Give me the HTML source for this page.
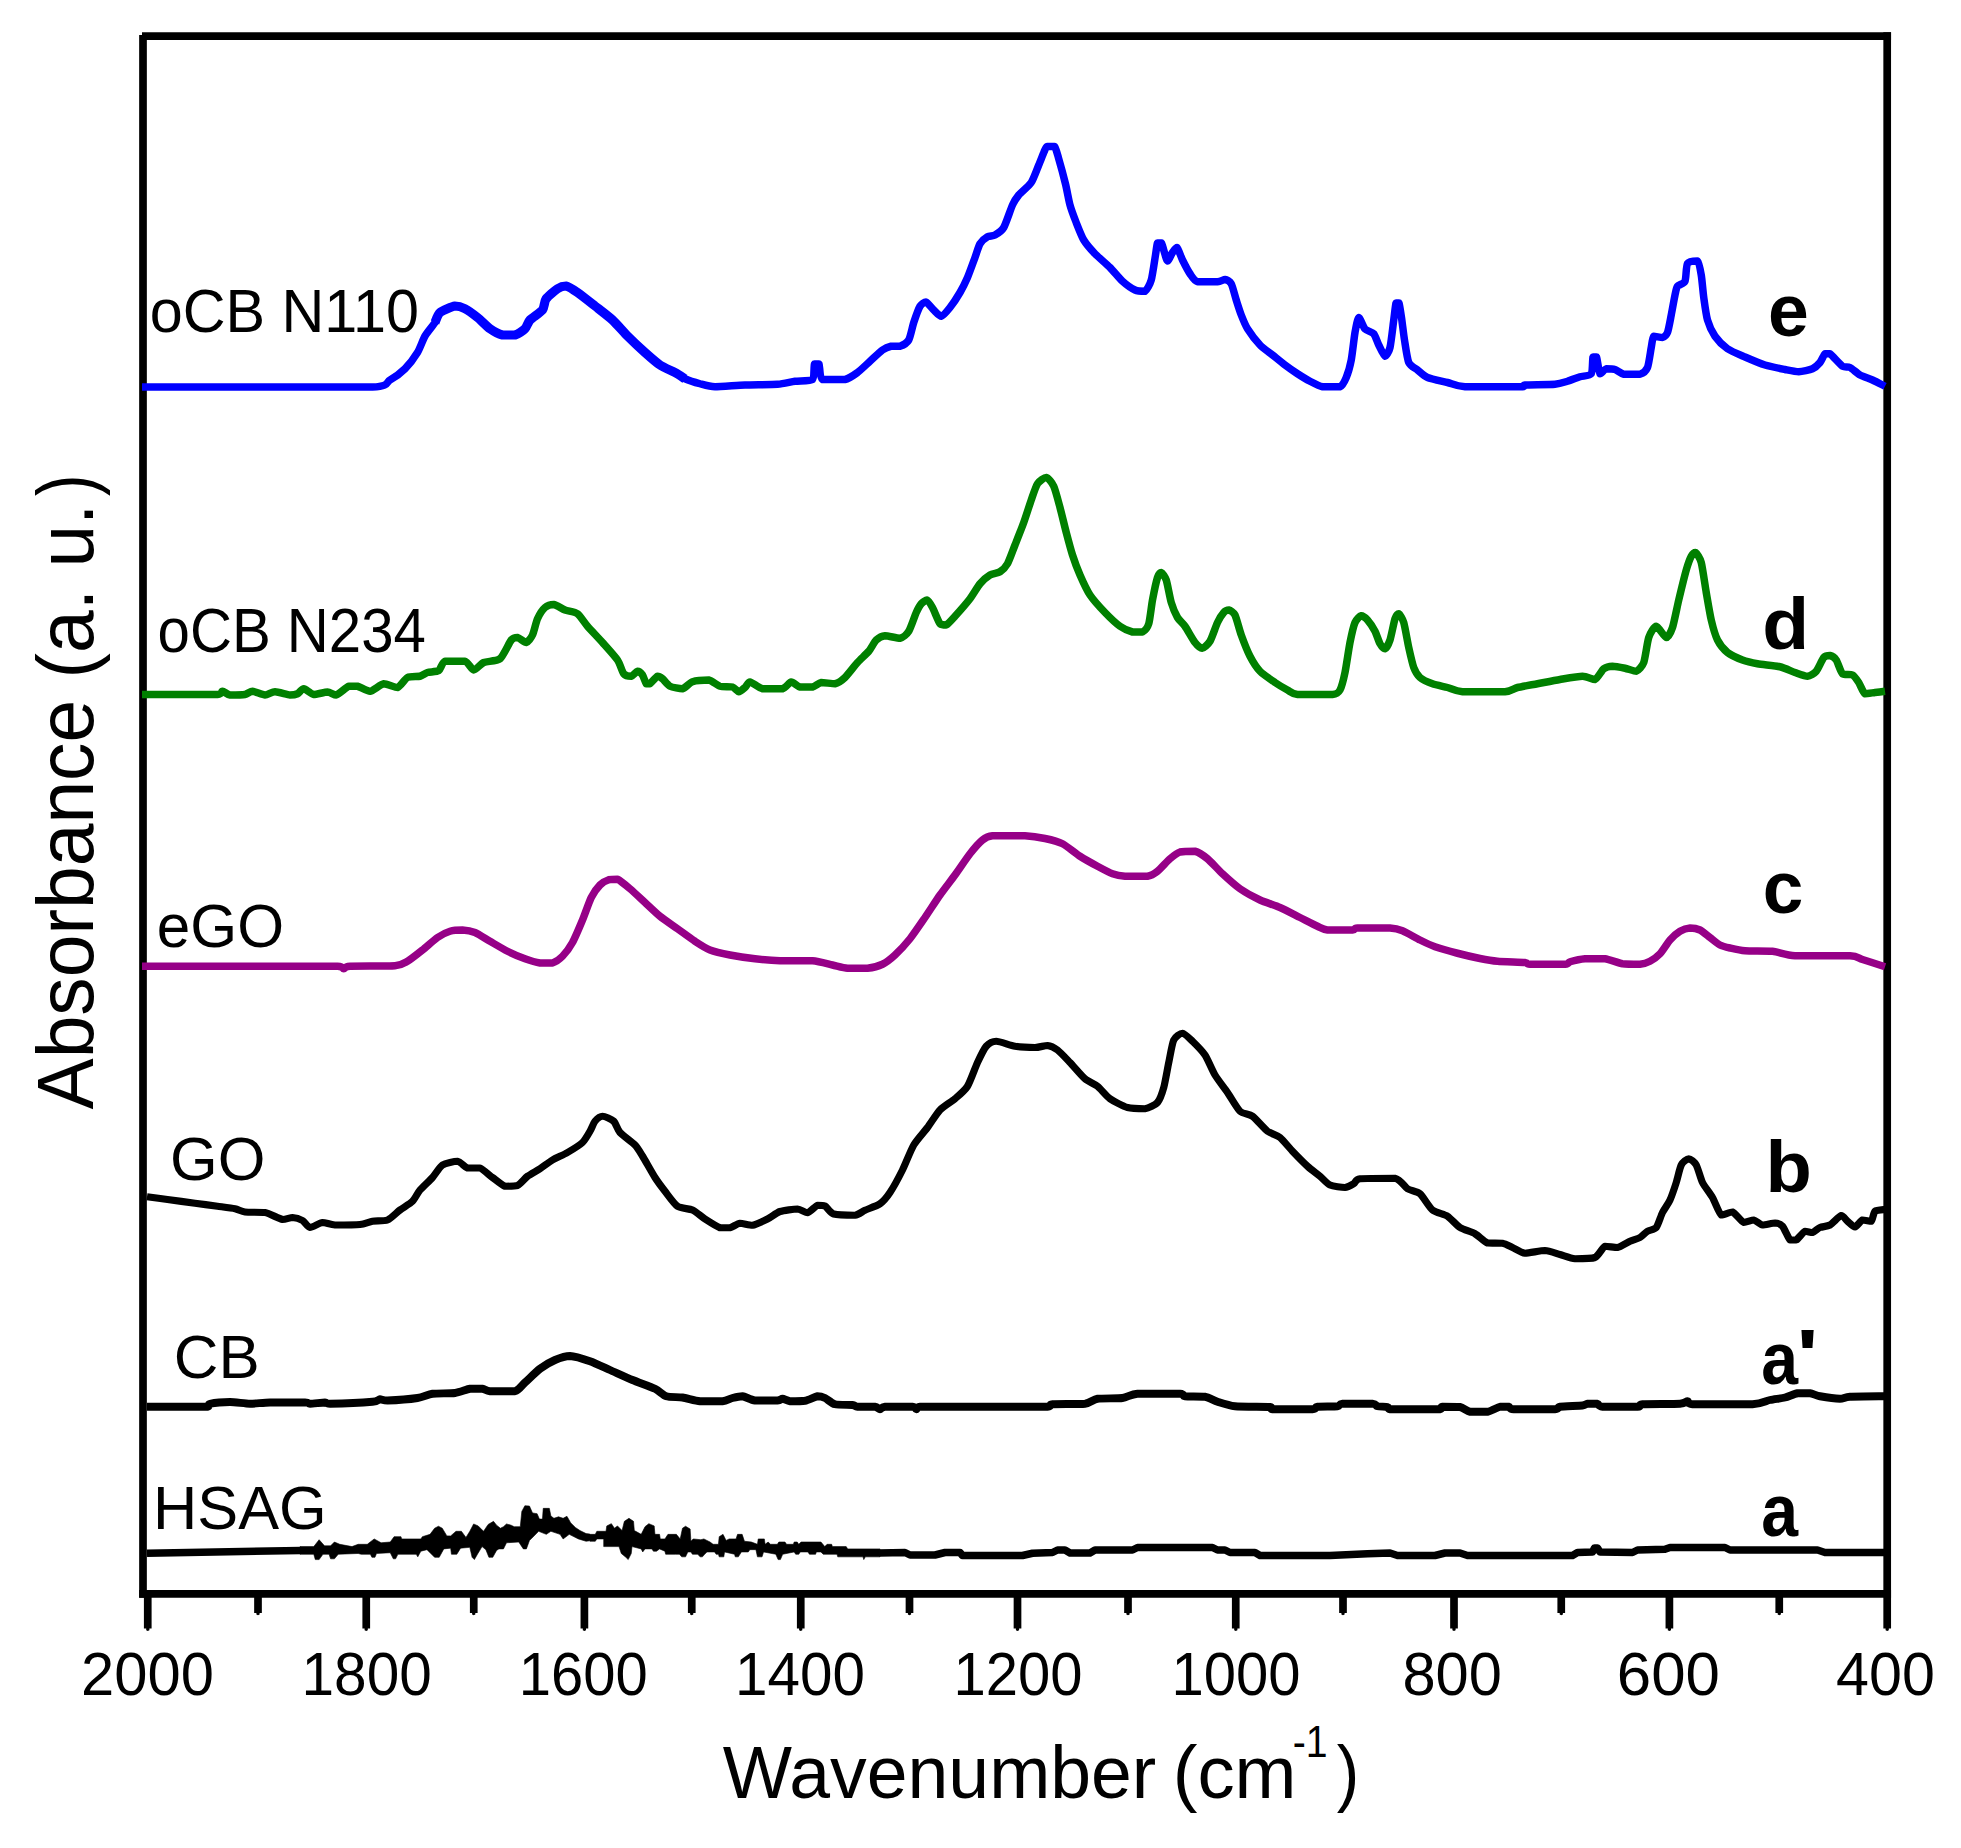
<!DOCTYPE html>
<html><head><meta charset="utf-8"><title>FTIR spectra</title>
<style>
html,body{margin:0;padding:0;background:#fff;}
body{width:1961px;height:1848px;overflow:hidden;}
svg{display:block;}
text{font-family:"Liberation Sans",sans-serif;fill:#000;}
.c{fill:none;stroke-linejoin:round;stroke-linecap:butt;}
</style></head><body>
<svg width="1961" height="1848" viewBox="0 0 1961 1848">
<rect x="0" y="0" width="1961" height="1848" fill="#fff"/>

<g stroke="#000" stroke-width="7.7" fill="none" stroke-linecap="butt">
<line x1="143.0" y1="35" x2="143.0" y2="1597.80"/>
<line x1="142" y1="36.05" x2="1891.05" y2="36.05"/>
<line x1="1887.2" y1="32.20" x2="1887.2" y2="1628.5"/>
<line x1="139.15" y1="1593.95" x2="1891.05" y2="1593.95"/>
<line x1="147.75" y1="1593.95" x2="147.75" y2="1628.5"/>
<line x1="366.25" y1="1593.95" x2="366.25" y2="1628.5"/>
<line x1="584.4" y1="1593.95" x2="584.4" y2="1628.5"/>
<line x1="800.75" y1="1593.95" x2="800.75" y2="1628.5"/>
<line x1="1017.5" y1="1593.95" x2="1017.5" y2="1628.5"/>
<line x1="1235.75" y1="1593.95" x2="1235.75" y2="1628.5"/>
<line x1="1454" y1="1593.95" x2="1454" y2="1628.5"/>
<line x1="1669.4" y1="1593.95" x2="1669.4" y2="1628.5"/>
<line x1="258" y1="1593.95" x2="258" y2="1613"/>
<line x1="473.75" y1="1593.95" x2="473.75" y2="1613"/>
<line x1="691.75" y1="1593.95" x2="691.75" y2="1613"/>
<line x1="909.5" y1="1593.95" x2="909.5" y2="1613"/>
<line x1="1128" y1="1593.95" x2="1128" y2="1613"/>
<line x1="1343" y1="1593.95" x2="1343" y2="1613"/>
<line x1="1561.25" y1="1593.95" x2="1561.25" y2="1613"/>
<line x1="1779.25" y1="1593.95" x2="1779.25" y2="1613"/>
</g>
<path fill="#000" d="M146.2,1628 h3.2 v2.2 l-1.6,0.8 l-1.6,-0.8 Z M364.6,1628 h3.2 v2.2 l-1.6,0.8 l-1.6,-0.8 Z M582.8,1628 h3.2 v2.2 l-1.6,0.8 l-1.6,-0.8 Z M799.1,1628 h3.2 v2.2 l-1.6,0.8 l-1.6,-0.8 Z M1015.9,1628 h3.2 v2.2 l-1.6,0.8 l-1.6,-0.8 Z M1234.2,1628 h3.2 v2.2 l-1.6,0.8 l-1.6,-0.8 Z M1452.4,1628 h3.2 v2.2 l-1.6,0.8 l-1.6,-0.8 Z M1667.8,1628 h3.2 v2.2 l-1.6,0.8 l-1.6,-0.8 Z M1885.6,1628 h3.2 v2.2 l-1.6,0.8 l-1.6,-0.8 Z M256.4,1612.5 h3.2 v2 l-1.6,0.8 l-1.6,-0.8 Z M472.1,1612.5 h3.2 v2 l-1.6,0.8 l-1.6,-0.8 Z M690.1,1612.5 h3.2 v2 l-1.6,0.8 l-1.6,-0.8 Z M907.9,1612.5 h3.2 v2 l-1.6,0.8 l-1.6,-0.8 Z M1126.4,1612.5 h3.2 v2 l-1.6,0.8 l-1.6,-0.8 Z M1341.4,1612.5 h3.2 v2 l-1.6,0.8 l-1.6,-0.8 Z M1559.7,1612.5 h3.2 v2 l-1.6,0.8 l-1.6,-0.8 Z M1777.7,1612.5 h3.2 v2 l-1.6,0.8 l-1.6,-0.8 Z"/>
<path class="c" stroke="#0000ff" stroke-width="7.5" d="M142.00,387.00C168.89,387.00 343.57,387.00 372.50,387.00C390.00,386.18 386.21,382.13 390.00,380.00C393.79,377.87 401.79,371.96 405.00,368.75C408.21,365.54 415.17,356.32 417.50,352.50C419.83,348.68 422.96,339.50 425.00,336.00C427.04,332.50 433.25,325.24 435.00,322.50C436.75,319.76 437.67,314.43 440.00,312.50C442.33,310.57 452.08,306.44 455.00,306.00C457.92,306.00 462.38,307.41 465.00,308.75C467.62,310.09 474.58,315.17 477.50,317.50C480.42,319.83 487.08,326.71 490.00,328.75C492.92,330.79 499.58,334.27 502.50,335.00C505.42,335.00 512.38,335.00 515.00,335.00C517.62,334.27 523.25,330.50 525.00,328.75C526.75,327.00 527.96,322.19 530.00,320.00C532.04,317.81 540.63,312.45 542.50,310.00C544.37,307.55 544.25,301.48 546.00,299.00C547.75,296.52 555.17,290.27 557.50,288.75C559.83,287.23 563.67,286.00 566.00,286.00C568.33,286.44 574.12,290.17 577.50,292.50C580.88,294.83 590.92,302.79 595.00,306.00C599.08,309.21 608.71,316.50 612.50,320.00C616.29,323.50 623.71,332.21 627.50,336.00C631.29,339.79 641.21,349.12 645.00,352.50C648.79,355.88 656.50,362.67 660.00,365.00C663.50,367.33 672.08,370.90 675.00,372.50C677.92,374.10 682.08,377.44 685.00,378.75C687.92,380.06 696.50,382.82 700.00,383.75C703.50,384.68 709.75,386.60 715.00,386.75C720.25,386.75 737.71,385.29 745.00,385.00C752.29,384.71 771.67,384.69 777.50,384.25C783.33,383.81 790.92,381.80 795.00,381.25C799.08,380.70 810.23,381.25 812.50,379.50C814.50,377.49 813.74,365.81 814.50,364.00C815.26,364.00 818.07,364.00 819.00,364.00C819.93,365.81 819.47,377.69 822.50,379.50C825.53,379.50 840.92,379.50 845.00,379.50C849.08,378.68 854.58,374.63 857.50,372.50C860.42,370.37 867.08,363.88 870.00,361.25C872.92,358.62 880.05,351.75 882.50,350.00C884.95,348.25 888.96,346.69 891.00,346.25C893.04,346.25 897.93,346.25 900.00,346.25C902.07,345.52 907.15,342.77 908.75,340.00C910.35,337.23 912.44,326.44 913.75,322.50C915.06,318.56 918.57,308.64 920.00,306.25C921.43,303.86 924.40,302.00 926.00,302.00C927.60,302.44 931.97,308.34 933.75,310.00C935.53,311.66 939.35,316.25 941.25,316.25C943.15,315.96 947.81,310.27 950.00,307.50C952.19,304.73 957.96,296.00 960.00,292.50C962.04,289.00 965.75,281.58 967.50,277.50C969.25,273.42 973.54,261.44 975.00,257.50C976.46,253.56 978.54,246.17 980.00,243.75C981.46,241.33 985.75,237.77 987.50,236.75C989.25,235.73 993.10,236.08 995.00,235.00C996.90,233.92 1001.71,231.00 1003.75,227.50C1005.79,224.00 1010.75,208.79 1012.50,205.00C1014.25,201.21 1016.56,197.62 1018.75,195.00C1020.94,192.38 1028.92,186.00 1031.25,182.50C1033.58,179.00 1037.26,168.56 1038.75,165.00C1040.24,161.44 1043.04,154.16 1044.00,152.00C1044.96,149.84 1045.78,147.14 1047.00,146.50C1048.22,146.50 1053.16,146.50 1054.50,146.50C1055.84,147.84 1057.22,153.62 1058.50,158.00C1059.78,162.38 1064.16,178.52 1065.50,184.00C1066.84,189.48 1068.78,200.57 1070.00,205.00C1071.22,209.43 1074.40,217.92 1076.00,222.00C1077.60,226.08 1081.53,236.30 1083.75,240.00C1085.97,243.70 1091.94,250.54 1095.00,253.75C1098.06,256.96 1106.79,264.29 1110.00,267.50C1113.21,270.71 1119.58,278.62 1122.50,281.25C1125.42,283.88 1132.38,288.83 1135.00,290.00C1137.62,291.17 1143.10,291.25 1145.00,291.25C1146.90,290.08 1150.03,284.23 1151.25,280.00C1152.47,275.77 1154.77,259.32 1155.50,255.00C1156.23,250.68 1156.80,244.40 1157.50,243.00C1158.20,243.00 1160.74,243.00 1161.50,243.00C1162.26,243.93 1163.30,248.90 1164.00,251.00C1164.70,253.10 1166.51,260.82 1167.50,261.00C1168.49,261.00 1171.39,254.07 1172.50,252.50C1173.61,250.93 1175.83,247.50 1177.00,247.50C1178.17,248.38 1180.98,256.94 1182.50,260.00C1184.02,263.06 1188.25,271.21 1190.00,273.75C1191.75,276.29 1194.29,280.82 1197.50,281.75C1200.71,281.75 1214.29,281.75 1217.50,281.75C1220.71,281.49 1223.40,279.50 1225.00,279.50C1226.60,279.73 1229.94,281.36 1231.25,283.75C1232.56,286.14 1235.08,296.35 1236.25,300.00C1237.42,303.65 1239.94,311.65 1241.25,315.00C1242.56,318.35 1245.31,325.25 1247.50,328.75C1249.69,332.25 1257.08,341.94 1260.00,345.00C1262.92,348.06 1269.58,352.67 1272.50,355.00C1275.42,357.33 1282.08,362.81 1285.00,365.00C1287.92,367.19 1294.58,371.85 1297.50,373.75C1300.42,375.65 1307.08,379.73 1310.00,381.25C1312.92,382.77 1319.00,386.11 1322.50,386.75C1326.00,386.75 1337.23,386.75 1340.00,386.75C1342.77,385.67 1344.94,380.62 1346.25,377.50C1347.56,374.38 1350.23,365.25 1351.25,360.00C1352.27,354.75 1354.12,337.46 1355.00,332.50C1355.88,327.54 1357.58,317.91 1358.75,317.50C1359.92,317.50 1363.25,327.10 1365.00,329.00C1366.75,330.90 1372.15,331.88 1373.75,333.75C1375.35,335.62 1377.44,342.38 1378.75,345.00C1380.06,347.62 1383.69,355.96 1385.00,356.25C1386.31,356.25 1388.98,351.73 1390.00,347.50C1391.02,343.27 1393.05,325.19 1393.75,320.00C1394.45,314.81 1395.39,304.98 1396.00,303.00C1396.61,303.00 1398.36,303.00 1399.00,303.00C1399.64,304.69 1400.86,313.18 1401.50,317.50C1402.14,321.82 1403.65,334.75 1404.50,340.00C1405.35,345.25 1407.23,359.00 1408.75,362.50C1410.27,366.00 1415.31,368.25 1417.50,370.00C1419.69,371.75 1424.00,376.04 1427.50,377.50C1431.00,378.96 1443.12,381.42 1447.50,382.50C1451.88,383.58 1456.25,386.25 1465.00,386.75C1473.75,386.75 1515.50,386.75 1522.50,386.75C1525.00,386.55 1522.50,385.29 1525.00,385.00C1528.79,384.71 1550.04,384.69 1555.00,384.25C1559.96,383.81 1564.58,382.12 1567.50,381.25C1570.42,380.38 1577.23,377.62 1580.00,376.75C1582.77,375.88 1589.73,376.05 1591.25,373.75C1592.77,371.45 1592.39,358.95 1593.00,357.00C1593.61,357.00 1595.68,357.00 1596.50,357.00C1597.32,358.95 1598.86,372.38 1600.00,373.75C1601.14,373.75 1604.50,369.25 1606.25,368.75C1608.00,368.75 1612.96,368.86 1615.00,369.50C1617.04,370.14 1620.83,373.70 1623.75,374.25C1626.67,374.25 1637.23,374.25 1640.00,374.25C1642.77,373.46 1646.19,370.62 1647.50,367.50C1648.81,364.38 1650.52,351.15 1651.25,347.50C1651.98,343.85 1652.44,337.42 1653.75,336.25C1655.06,336.25 1660.90,337.50 1662.50,337.50C1664.10,337.06 1666.48,335.12 1667.50,332.50C1668.52,329.88 1670.38,319.38 1671.25,315.00C1672.12,310.62 1674.27,298.35 1675.00,295.00C1675.73,291.65 1676.33,287.85 1677.50,286.25C1678.67,284.65 1683.83,283.90 1685.00,281.25C1686.17,278.60 1686.04,265.86 1687.50,263.50C1688.96,261.14 1695.90,261.00 1697.50,261.00C1699.10,262.34 1700.52,270.74 1701.25,275.00C1701.98,279.26 1703.02,292.25 1703.75,297.50C1704.48,302.75 1706.19,315.48 1707.50,320.00C1708.81,324.52 1712.67,332.90 1715.00,336.25C1717.33,339.60 1724.00,346.33 1727.50,348.75C1731.00,351.17 1740.62,355.10 1745.00,357.00C1749.38,358.90 1760.33,363.54 1765.00,365.00C1769.67,366.46 1781.06,368.71 1785.00,369.50C1788.94,370.29 1795.54,371.75 1798.75,371.75C1801.96,371.66 1810.02,369.83 1812.50,368.75C1814.98,367.67 1818.54,364.25 1820.00,362.50C1821.46,360.75 1823.83,354.77 1825.00,353.75C1826.17,353.75 1827.96,353.75 1830.00,353.75C1832.04,355.21 1840.17,364.65 1842.50,366.25C1844.83,367.50 1847.96,366.48 1850.00,367.50C1852.04,368.52 1857.38,373.54 1860.00,375.00C1862.62,376.46 1869.58,378.69 1872.50,380.00C1875.42,381.31 1883.54,385.52 1885.00,386.25"/>
<path class="c" stroke="#0000ff" stroke-width="9.2" stroke-linecap="round" d="M435.00,322.50C435.58,321.33 437.67,314.43 440.00,312.50C442.33,310.57 452.08,306.44 455.00,306.00C457.92,306.00 462.38,307.41 465.00,308.75C467.62,310.09 474.58,315.17 477.50,317.50C480.42,319.83 487.08,326.71 490.00,328.75C492.92,330.79 499.58,334.27 502.50,335.00C505.42,335.00 512.38,335.00 515.00,335.00C517.62,334.27 523.25,330.50 525.00,328.75C526.75,327.00 527.96,322.19 530.00,320.00C532.04,317.81 540.63,312.45 542.50,310.00C544.37,307.55 544.25,301.48 546.00,299.00C547.75,296.52 555.17,290.27 557.50,288.75C559.83,287.23 563.67,286.00 566.00,286.00C568.33,286.44 574.12,290.17 577.50,292.50C580.88,294.83 590.92,302.79 595.00,306.00C599.08,309.21 608.71,316.50 612.50,320.00C616.29,323.50 623.71,332.21 627.50,336.00C631.29,339.79 641.21,349.12 645.00,352.50C648.79,355.88 656.50,362.67 660.00,365.00C663.50,367.33 672.08,370.90 675.00,372.50C677.92,374.10 683.83,378.02 685.00,378.75"/>
<path class="c" stroke="#008000" stroke-width="7.5" d="M142.00,694.50C150.81,694.50 208.11,694.50 217.50,694.50C222.50,694.12 221.04,691.25 222.50,691.25C223.96,691.31 227.38,694.62 230.00,695.00C232.62,695.00 242.38,694.94 245.00,694.50C247.62,694.06 250.17,691.25 252.50,691.25C254.83,691.31 262.38,694.94 265.00,695.00C267.62,695.00 272.08,691.75 275.00,691.75C277.92,691.75 287.38,694.77 290.00,695.00C292.62,695.00 295.90,694.48 297.50,693.75C299.10,693.02 301.85,688.75 303.75,688.75C305.65,688.84 310.98,694.12 313.75,694.50C316.52,694.50 324.88,692.00 327.50,692.00C330.12,692.06 333.77,695.00 336.25,695.00C338.73,694.33 346.27,687.27 348.75,686.25C351.23,686.25 355.02,686.25 357.50,686.25C359.98,686.83 366.94,691.25 370.00,691.25C373.06,690.96 380.54,684.19 383.75,683.75C386.96,683.75 394.73,687.50 397.50,687.50C400.27,686.77 404.88,678.81 407.50,677.50C410.12,676.25 417.67,676.83 420.00,676.25C422.33,675.67 425.31,673.17 427.50,672.50C429.69,671.83 436.71,671.81 438.75,670.50C440.79,669.19 441.94,662.33 445.00,661.25C448.06,661.25 461.65,661.25 465.00,661.25C468.35,662.27 471.56,669.85 473.75,670.00C475.94,670.00 480.69,663.81 483.75,662.50C486.81,661.19 496.79,661.38 500.00,658.75C503.21,656.12 509.21,642.48 511.25,640.00C513.29,637.52 515.75,637.50 517.50,637.50C519.25,637.79 524.50,642.50 526.25,642.50C528.00,642.21 531.19,637.77 532.50,635.00C533.81,632.23 536.04,621.96 537.50,618.75C538.96,615.54 543.10,609.16 545.00,607.50C546.90,605.84 551.42,604.50 553.75,604.50C556.08,604.79 562.23,608.92 565.00,610.00C567.77,611.08 574.88,611.85 577.50,613.75C580.12,615.65 584.58,622.90 587.50,626.25C590.42,629.60 599.00,638.56 602.50,642.50C606.00,646.44 615.02,656.35 617.50,660.00C619.98,663.65 622.15,671.85 623.75,673.75C625.35,675.65 629.65,676.25 631.25,676.25C632.85,675.96 636.19,671.40 637.50,671.25C638.81,671.25 641.48,673.54 642.50,675.00C643.52,676.46 645.38,682.73 646.25,683.75C647.12,683.75 648.69,683.75 650.00,683.75C651.31,682.88 656.04,676.83 657.50,676.25C658.96,676.25 661.04,677.58 662.50,678.75C663.96,679.92 667.67,685.08 670.00,686.25C672.33,687.42 679.88,688.75 682.50,688.75C685.12,688.23 689.44,682.77 692.50,681.75C695.56,680.73 705.54,680.00 708.75,680.00C711.96,680.52 717.23,685.43 720.00,686.25C722.77,687.00 730.31,686.36 732.50,687.00C734.69,687.64 737.29,691.69 738.75,691.75C740.21,691.75 743.69,688.64 745.00,687.50C746.31,686.36 747.96,682.00 750.00,682.00C752.04,682.15 758.71,687.96 762.50,688.75C766.29,688.75 779.15,688.75 782.50,688.75C785.85,687.96 789.21,682.20 791.25,682.00C793.29,682.00 797.52,686.42 800.00,687.00C802.48,687.00 810.02,687.00 812.50,687.00C814.98,686.48 818.62,682.88 821.25,682.50C823.88,682.50 832.23,683.75 835.00,683.75C837.77,683.17 842.38,679.98 845.00,677.50C847.62,675.02 854.73,665.56 857.50,662.50C860.27,659.44 866.56,653.88 868.75,651.25C870.94,648.62 874.35,641.81 876.25,640.00C878.15,638.19 882.23,635.95 885.00,635.75C887.77,635.75 897.23,638.25 900.00,638.25C902.77,637.73 906.85,634.25 908.75,631.25C910.65,628.25 914.79,615.71 916.25,612.50C917.71,609.29 920.00,605.21 921.25,603.75C922.50,602.29 925.69,600.00 927.00,600.00C928.31,600.44 930.98,604.73 932.50,607.50C934.02,610.27 938.40,621.71 940.00,623.75C941.60,625.00 944.50,625.00 946.25,625.00C948.00,624.12 952.23,619.31 955.00,616.25C957.77,613.19 967.08,602.54 970.00,598.75C972.92,594.96 977.67,586.52 980.00,583.75C982.33,580.98 987.67,576.40 990.00,575.00C992.33,573.60 997.96,573.06 1000.00,571.75C1002.04,570.44 1005.75,566.87 1007.50,563.75C1009.25,560.63 1013.10,549.81 1015.00,545.00C1016.90,540.19 1021.85,527.75 1023.75,522.50C1025.65,517.25 1029.65,504.52 1031.25,500.00C1032.85,495.48 1035.75,486.38 1037.50,483.75C1039.25,481.12 1044.35,477.50 1046.25,477.50C1048.15,477.79 1052.15,482.75 1053.75,486.25C1055.35,489.75 1058.54,502.10 1060.00,507.50C1061.46,512.90 1064.79,526.96 1066.25,532.50C1067.71,538.04 1070.90,550.04 1072.50,555.00C1074.10,559.96 1077.96,570.33 1080.00,575.00C1082.04,579.67 1087.08,590.62 1090.00,595.00C1092.92,599.38 1101.50,608.85 1105.00,612.50C1108.50,616.15 1116.79,623.98 1120.00,626.25C1123.21,628.52 1129.88,631.33 1132.50,632.00C1135.12,632.00 1140.60,632.00 1142.50,632.00C1144.40,631.04 1147.58,627.48 1148.75,623.75C1149.92,620.02 1151.48,605.40 1152.50,600.00C1153.52,594.60 1156.48,580.71 1157.50,577.50C1158.52,574.29 1160.23,572.50 1161.25,572.50C1162.27,572.79 1165.08,576.50 1166.25,580.00C1167.42,583.50 1169.94,598.12 1171.25,602.50C1172.56,606.88 1175.90,614.73 1177.50,617.50C1179.10,620.27 1182.96,623.33 1185.00,626.25C1187.04,629.17 1193.02,639.93 1195.00,642.50C1196.98,645.07 1200.25,648.25 1202.00,648.25C1203.75,648.10 1208.19,644.25 1210.00,641.25C1211.81,638.25 1215.90,625.85 1217.50,622.50C1219.10,619.15 1222.44,613.96 1223.75,612.50C1225.06,611.04 1227.44,610.00 1228.75,610.00C1230.06,610.29 1233.54,612.08 1235.00,615.00C1236.46,617.92 1239.50,630.19 1241.25,635.00C1243.00,639.81 1247.81,652.02 1250.00,656.25C1252.19,660.48 1257.08,668.19 1260.00,671.25C1262.92,674.31 1271.79,680.31 1275.00,682.50C1278.21,684.69 1284.88,688.60 1287.50,690.00C1290.12,691.40 1292.25,693.98 1297.50,694.50C1302.75,694.50 1327.54,694.50 1332.50,694.50C1337.46,693.98 1338.54,692.57 1340.00,690.00C1341.46,687.43 1343.83,678.04 1345.00,672.50C1346.17,666.96 1348.83,648.33 1350.00,642.50C1351.17,636.67 1353.69,625.62 1355.00,622.50C1356.31,619.38 1359.79,616.04 1361.25,615.75C1362.71,615.75 1365.90,618.19 1367.50,620.00C1369.10,621.81 1373.54,628.48 1375.00,631.25C1376.46,634.02 1378.83,641.71 1380.00,643.75C1381.17,645.79 1383.83,648.75 1385.00,648.75C1386.17,648.31 1388.83,643.50 1390.00,640.00C1391.17,636.50 1393.98,621.81 1395.00,618.75C1396.02,615.69 1397.73,613.75 1398.75,613.75C1399.77,614.19 1402.58,618.56 1403.75,622.50C1404.92,626.44 1407.58,642.25 1408.75,647.50C1409.92,652.75 1412.44,664.00 1413.75,667.50C1415.06,671.00 1417.81,675.60 1420.00,677.50C1422.19,679.40 1429.29,682.58 1432.50,683.75C1435.71,684.92 1444.00,686.57 1447.50,687.50C1451.00,688.43 1455.79,691.25 1462.50,691.75C1469.21,691.75 1498.58,691.75 1505.00,691.75C1511.42,691.25 1513.71,688.43 1517.50,687.50C1521.29,686.57 1532.54,684.68 1537.50,683.75C1542.46,682.82 1554.75,680.38 1560.00,679.50C1565.25,678.62 1578.42,676.25 1582.50,676.25C1586.58,676.25 1592.52,679.50 1595.00,679.50C1597.48,678.62 1601.71,670.30 1603.75,668.75C1605.79,667.20 1610.02,666.31 1612.50,666.25C1614.98,666.25 1622.23,667.67 1625.00,668.25C1627.77,668.83 1634.06,671.25 1636.25,671.25C1638.44,670.58 1642.29,666.44 1643.75,662.50C1645.21,658.56 1647.29,641.73 1648.75,637.50C1650.21,633.27 1654.21,626.25 1656.25,626.25C1658.29,626.25 1664.35,637.35 1666.25,637.50C1668.15,637.50 1671.04,631.88 1672.50,627.50C1673.96,623.12 1677.15,606.71 1678.75,600.00C1680.35,593.29 1684.79,575.10 1686.25,570.00C1687.71,564.90 1690.17,558.29 1691.25,556.25C1692.33,554.21 1694.33,552.50 1695.50,552.50C1696.67,553.23 1700.00,557.83 1701.25,562.50C1702.50,567.17 1705.08,585.79 1706.25,592.50C1707.42,599.21 1709.94,614.46 1711.25,620.00C1712.56,625.54 1715.60,636.21 1717.50,640.00C1719.40,643.79 1724.58,650.17 1727.50,652.50C1730.42,654.83 1739.00,658.69 1742.50,660.00C1746.00,661.31 1753.12,662.96 1757.50,663.75C1761.88,664.54 1775.62,665.73 1780.00,666.75C1784.38,667.77 1791.79,671.39 1795.00,672.50C1798.21,673.61 1805.02,676.25 1807.50,676.25C1809.98,676.10 1814.35,673.44 1816.25,671.25C1818.15,669.06 1822.15,659.34 1823.75,657.50C1825.35,655.66 1828.54,655.50 1830.00,655.50C1831.46,655.79 1834.79,657.87 1836.25,660.00C1837.71,662.13 1840.60,672.00 1842.50,673.75C1844.40,675.00 1850.60,673.98 1852.50,675.00C1854.40,676.02 1857.29,680.31 1858.75,682.50C1860.21,684.69 1863.10,692.58 1865.00,693.75C1866.90,693.75 1872.67,692.79 1875.00,692.50C1877.33,692.21 1883.83,691.40 1885.00,691.25"/>
<path class="c" stroke="#960087" stroke-width="7.5" d="M142.00,966.25C164.81,966.25 313.96,966.25 337.50,966.25C343.75,966.54 342.29,968.75 343.75,968.75C345.21,968.75 344.02,966.60 350.00,966.25C355.98,965.90 388.29,966.25 395.00,965.75C401.71,965.17 404.29,963.09 407.50,961.25C410.71,959.41 419.00,952.77 422.50,950.00C426.00,947.23 434.29,939.69 437.50,937.50C440.71,935.31 447.08,932.12 450.00,931.25C452.92,930.38 459.58,930.00 462.50,930.00C465.42,930.15 471.79,931.19 475.00,932.50C478.21,933.81 486.21,939.06 490.00,941.25C493.79,943.44 503.42,949.21 507.50,951.25C511.58,953.29 521.21,957.38 525.00,958.75C528.79,960.12 536.79,962.50 540.00,963.00C543.21,963.00 549.88,963.00 552.50,963.00C555.12,962.21 560.17,958.64 562.50,956.25C564.83,953.86 570.17,946.73 572.50,942.50C574.83,938.27 580.31,925.25 582.50,920.00C584.69,914.75 589.21,901.58 591.25,897.50C593.29,893.42 597.96,887.07 600.00,885.00C602.04,882.93 606.71,880.42 608.75,879.75C610.79,879.25 615.02,879.25 617.50,879.25C619.98,880.30 626.79,886.04 630.00,888.75C633.21,891.46 641.50,899.29 645.00,902.50C648.50,905.71 656.21,913.19 660.00,916.25C663.79,919.31 673.42,925.83 677.50,928.75C681.58,931.67 691.21,938.77 695.00,941.25C698.79,943.73 705.92,948.40 710.00,950.00C714.08,951.60 724.75,953.98 730.00,955.00C735.25,956.02 749.17,958.08 755.00,958.75C760.83,959.42 773.29,960.52 780.00,960.75C786.71,960.75 806.38,960.75 812.50,960.75C818.62,961.25 828.42,964.12 832.50,965.00C836.58,965.88 843.42,967.87 847.50,968.25C851.58,968.25 863.42,968.25 867.50,968.25C871.58,967.78 879.29,965.80 882.50,964.25C885.71,962.70 891.79,957.98 895.00,955.00C898.21,952.02 906.50,943.12 910.00,938.75C913.50,934.38 921.50,922.60 925.00,917.50C928.50,912.40 936.50,899.96 940.00,895.00C943.50,890.04 951.50,879.81 955.00,875.00C958.50,870.19 966.79,857.83 970.00,853.75C973.21,849.67 979.88,842.10 982.50,840.00C985.12,837.90 987.54,836.25 992.50,835.75C997.46,835.75 1018.88,835.75 1025.00,835.75C1031.12,836.07 1040.62,837.57 1045.00,838.50C1049.38,839.43 1058.42,841.68 1062.50,843.75C1066.58,845.82 1075.92,853.62 1080.00,856.25C1084.08,858.88 1093.71,864.21 1097.50,866.25C1101.29,868.29 1109.29,872.58 1112.50,873.75C1115.71,874.92 1120.92,875.96 1125.00,876.25C1129.08,876.25 1143.71,876.25 1147.50,876.25C1151.29,875.67 1154.88,873.29 1157.50,871.25C1160.12,869.21 1167.38,861.00 1170.00,858.75C1172.62,856.50 1177.08,852.88 1180.00,852.00C1182.92,851.25 1191.79,851.25 1195.00,851.25C1198.21,852.04 1204.29,856.12 1207.50,858.75C1210.71,861.38 1218.71,870.25 1222.50,873.75C1226.29,877.25 1235.62,885.69 1240.00,888.75C1244.38,891.81 1255.33,897.81 1260.00,900.00C1264.67,902.19 1275.33,905.46 1280.00,907.50C1284.67,909.54 1295.62,915.31 1300.00,917.50C1304.38,919.69 1314.29,924.79 1317.50,926.25C1320.71,927.71 1323.42,929.56 1327.50,930.00C1331.58,930.00 1349.00,930.00 1352.50,930.00C1356.00,929.77 1353.12,928.23 1357.50,928.00C1361.88,928.00 1384.75,928.00 1390.00,928.00C1395.25,928.32 1399.00,929.35 1402.50,930.75C1406.00,932.15 1416.21,938.13 1420.00,940.00C1423.79,941.87 1430.62,945.20 1435.00,946.75C1439.38,948.30 1452.25,951.88 1457.50,953.25C1462.75,954.62 1475.33,957.57 1480.00,958.50C1484.67,959.43 1492.25,960.78 1497.50,961.25C1502.75,961.72 1521.21,962.15 1525.00,962.50C1528.79,962.85 1525.33,964.05 1530.00,964.25C1534.67,964.25 1560.33,964.25 1565.00,964.25C1569.67,963.96 1567.67,962.39 1570.00,961.75C1572.33,961.11 1580.92,959.10 1585.00,958.75C1589.08,958.75 1600.62,958.75 1605.00,958.75C1609.38,959.33 1618.42,963.11 1622.50,963.75C1626.58,964.25 1636.79,964.25 1640.00,964.25C1643.21,963.96 1647.67,962.48 1650.00,961.25C1652.33,960.02 1657.67,956.23 1660.00,953.75C1662.33,951.27 1667.67,942.62 1670.00,940.00C1672.33,937.38 1677.67,932.65 1680.00,931.25C1682.33,929.85 1687.67,928.15 1690.00,928.00C1692.33,928.00 1697.67,928.89 1700.00,930.00C1702.33,931.11 1707.67,935.75 1710.00,937.50C1712.33,939.25 1717.67,943.77 1720.00,945.00C1722.33,946.23 1727.08,947.33 1730.00,948.00C1732.92,948.67 1740.04,950.37 1745.00,950.75C1749.96,951.13 1766.67,950.75 1772.50,951.25C1778.33,951.83 1785.96,955.23 1795.00,955.75C1804.04,955.75 1842.12,955.75 1850.00,955.75C1857.88,956.19 1858.42,958.22 1862.50,959.50C1866.58,960.78 1882.38,965.90 1885.00,966.75"/>
<path class="c" stroke="#000" stroke-width="7.2" d="M147.00,1196.75C149.39,1197.07 161.90,1198.74 167.50,1199.50C173.10,1200.26 189.17,1202.46 195.00,1203.25C200.83,1204.04 212.83,1205.61 217.50,1206.25C222.17,1206.89 231.79,1208.08 235.00,1208.75C238.21,1209.42 241.50,1211.56 245.00,1212.00C248.50,1212.44 260.62,1212.00 265.00,1212.50C269.38,1213.38 279.29,1218.92 282.50,1219.50C285.71,1219.50 290.17,1217.50 292.50,1217.50C294.83,1217.62 300.46,1219.33 302.50,1220.50C304.54,1221.67 307.67,1227.27 310.00,1227.50C312.33,1227.50 319.58,1222.79 322.50,1222.50C325.42,1222.50 330.62,1224.77 335.00,1225.00C339.38,1225.00 355.62,1224.94 360.00,1224.50C364.38,1224.06 369.29,1221.78 372.50,1221.25C375.71,1220.72 384.29,1221.25 387.50,1220.00C390.71,1218.69 397.08,1212.19 400.00,1210.00C402.92,1207.81 410.17,1203.58 412.50,1201.25C414.83,1198.92 417.67,1192.77 420.00,1190.00C422.33,1187.23 429.88,1180.42 432.50,1177.50C435.12,1174.58 439.58,1166.90 442.50,1165.00C445.42,1163.10 454.58,1161.25 457.50,1161.25C460.42,1161.60 464.88,1167.21 467.50,1168.00C470.12,1168.00 477.08,1168.00 480.00,1168.00C482.92,1169.11 489.58,1175.37 492.50,1177.50C495.42,1179.63 502.08,1185.32 505.00,1186.25C507.92,1186.25 514.88,1186.25 517.50,1185.50C520.12,1184.33 524.88,1178.20 527.50,1176.25C530.12,1174.30 537.08,1170.65 540.00,1168.75C542.92,1166.85 549.29,1161.90 552.50,1160.00C555.71,1158.10 564.00,1154.54 567.50,1152.50C571.00,1150.46 579.88,1144.98 582.50,1142.50C585.12,1140.02 588.54,1133.73 590.00,1131.25C591.46,1128.77 593.54,1123.00 595.00,1121.25C596.46,1119.50 600.31,1116.25 602.50,1116.25C604.69,1116.25 611.71,1119.35 613.75,1121.25C615.79,1123.15 617.52,1129.73 620.00,1132.50C622.48,1135.27 632.38,1142.26 635.00,1145.00C637.62,1147.74 640.17,1152.21 642.50,1156.00C644.83,1159.79 652.38,1173.39 655.00,1177.50C657.62,1181.61 662.38,1187.90 665.00,1191.25C667.62,1194.60 674.29,1204.06 677.50,1206.25C680.71,1208.44 689.29,1208.51 692.50,1210.00C695.71,1211.49 701.79,1216.93 705.00,1219.00C708.21,1221.07 717.08,1226.73 720.00,1227.75C722.92,1227.75 727.67,1227.75 730.00,1227.75C732.33,1227.22 737.38,1223.54 740.00,1223.25C742.62,1223.25 749.29,1225.25 752.50,1225.25C755.71,1224.75 764.29,1220.60 767.50,1219.00C770.71,1217.40 776.50,1212.67 780.00,1211.50C783.50,1210.33 794.29,1209.00 797.50,1209.00C800.71,1209.15 805.17,1212.75 807.50,1212.75C809.83,1212.31 815.46,1206.04 817.50,1205.25C819.54,1205.25 823.10,1205.25 825.00,1206.00C826.90,1207.02 830.25,1212.92 833.75,1214.00C837.25,1215.08 851.35,1215.25 855.00,1215.25C858.65,1214.81 862.08,1211.59 865.00,1210.25C867.92,1208.91 877.08,1205.82 880.00,1203.75C882.92,1201.68 887.38,1196.44 890.00,1192.50C892.62,1188.56 899.73,1175.54 902.50,1170.00C905.27,1164.46 910.83,1149.96 913.75,1145.00C916.67,1140.04 924.44,1131.58 927.50,1127.50C930.56,1123.42 936.79,1113.35 940.00,1110.00C943.21,1106.65 951.79,1101.52 955.00,1098.75C958.21,1095.98 964.88,1090.48 967.50,1086.25C970.12,1082.02 975.31,1067.17 977.50,1062.50C979.69,1057.83 984.06,1048.73 986.25,1046.25C988.44,1043.77 992.90,1041.25 996.25,1041.25C999.60,1041.25 1010.48,1045.52 1015.00,1046.25C1019.52,1046.98 1031.21,1047.50 1035.00,1047.50C1038.79,1047.41 1044.88,1045.50 1047.50,1045.50C1050.12,1045.79 1054.88,1048.02 1057.50,1050.00C1060.12,1051.98 1066.79,1059.15 1070.00,1062.50C1073.21,1065.85 1081.79,1075.98 1085.00,1078.75C1088.21,1081.52 1094.58,1083.92 1097.50,1086.25C1100.42,1088.58 1106.50,1096.27 1110.00,1098.75C1113.50,1101.23 1123.42,1106.33 1127.50,1107.50C1131.58,1108.67 1141.50,1108.75 1145.00,1108.75C1148.50,1108.17 1155.31,1104.98 1157.50,1102.50C1159.69,1100.02 1162.44,1092.17 1163.75,1087.50C1165.06,1082.83 1167.58,1068.04 1168.75,1062.50C1169.92,1056.96 1172.15,1043.41 1173.75,1040.00C1175.35,1036.59 1180.31,1033.25 1182.50,1033.25C1184.69,1033.40 1189.88,1038.71 1192.50,1041.25C1195.12,1043.79 1202.38,1051.06 1205.00,1055.00C1207.62,1058.94 1212.38,1070.62 1215.00,1075.00C1217.62,1079.38 1224.58,1088.27 1227.50,1092.50C1230.42,1096.73 1237.08,1108.48 1240.00,1111.25C1242.92,1114.02 1249.29,1113.92 1252.50,1116.25C1255.71,1118.58 1264.29,1128.77 1267.50,1131.25C1270.71,1133.73 1277.08,1135.17 1280.00,1137.50C1282.92,1139.83 1289.29,1147.90 1292.50,1151.25C1295.71,1154.60 1304.29,1163.33 1307.50,1166.25C1310.71,1169.17 1317.38,1174.06 1320.00,1176.25C1322.62,1178.44 1327.08,1183.69 1330.00,1185.00C1332.92,1186.31 1342.23,1187.50 1345.00,1187.50C1347.77,1187.35 1352.00,1184.77 1353.75,1183.75C1355.50,1182.73 1355.19,1179.39 1360.00,1178.75C1364.81,1178.25 1389.46,1178.25 1395.00,1178.25C1400.54,1179.42 1404.58,1186.94 1407.50,1188.75C1410.42,1190.56 1417.08,1191.27 1420.00,1193.75C1422.92,1196.23 1429.29,1207.38 1432.50,1210.00C1435.71,1212.62 1444.29,1214.21 1447.50,1216.25C1450.71,1218.29 1456.79,1225.46 1460.00,1227.50C1463.21,1229.54 1471.79,1231.94 1475.00,1233.75C1478.21,1235.56 1484.29,1241.89 1487.50,1243.00C1490.71,1243.25 1499.58,1243.00 1502.50,1243.25C1505.42,1243.78 1509.88,1246.33 1512.50,1247.50C1515.12,1248.67 1521.21,1252.90 1525.00,1253.25C1528.79,1253.25 1540.92,1250.50 1545.00,1250.50C1549.08,1250.65 1556.50,1253.54 1560.00,1254.50C1563.50,1255.46 1570.92,1258.40 1575.00,1258.75C1579.08,1258.75 1591.50,1258.75 1595.00,1257.50C1598.50,1256.04 1602.38,1247.42 1605.00,1246.25C1607.62,1246.25 1614.58,1247.50 1617.50,1247.50C1620.42,1246.92 1627.38,1242.42 1630.00,1241.25C1632.62,1240.08 1637.96,1238.67 1640.00,1237.50C1642.04,1236.33 1645.60,1232.42 1647.50,1231.25C1649.40,1230.08 1654.50,1229.69 1656.25,1227.50C1658.00,1225.31 1660.90,1215.71 1662.50,1212.50C1664.10,1209.29 1668.40,1203.50 1670.00,1200.00C1671.60,1196.50 1674.94,1186.58 1676.25,1182.50C1677.56,1178.42 1679.79,1167.77 1681.25,1165.00C1682.71,1162.23 1687.00,1158.75 1688.75,1158.75C1690.50,1158.75 1694.65,1162.23 1696.25,1165.00C1697.85,1167.77 1700.60,1178.71 1702.50,1182.50C1704.40,1186.29 1710.31,1193.71 1712.50,1197.50C1714.69,1201.29 1718.92,1213.31 1721.25,1215.00C1723.58,1215.00 1729.88,1212.00 1732.50,1212.00C1735.12,1212.88 1741.27,1221.57 1743.75,1222.50C1746.23,1222.50 1751.56,1220.00 1753.75,1220.00C1755.94,1220.29 1760.02,1224.65 1762.50,1225.00C1764.98,1225.00 1772.67,1223.00 1775.00,1223.00C1777.33,1223.15 1780.75,1224.27 1782.50,1226.25C1784.25,1228.23 1788.40,1238.40 1790.00,1240.00C1791.60,1240.00 1794.50,1240.00 1796.25,1240.00C1798.00,1238.98 1803.10,1232.12 1805.00,1231.25C1806.90,1231.25 1810.75,1232.50 1812.50,1232.50C1814.25,1232.06 1817.96,1228.38 1820.00,1227.50C1822.04,1226.62 1827.52,1226.40 1830.00,1225.00C1832.48,1223.60 1839.21,1215.94 1841.25,1215.50C1843.29,1215.50 1845.90,1219.91 1847.50,1221.25C1849.10,1222.59 1853.25,1227.00 1855.00,1227.00C1856.75,1226.85 1860.60,1220.67 1862.50,1220.00C1864.40,1220.00 1869.79,1221.25 1871.25,1221.25C1872.71,1220.23 1873.40,1212.62 1875.00,1211.25C1876.60,1209.88 1883.83,1209.70 1885.00,1209.50"/>
<path class="c" stroke="#000" stroke-width="7.9" d="M147.00,1406.75C154.06,1406.75 200.15,1406.75 207.50,1406.75C210.00,1406.40 207.50,1404.30 210.00,1403.75C212.62,1403.20 225.33,1402.00 230.00,1402.00C234.67,1402.00 245.33,1403.69 250.00,1403.75C254.67,1403.75 263.58,1402.65 270.00,1402.50C276.42,1402.50 300.33,1402.50 305.00,1402.50C309.67,1402.65 307.67,1403.75 310.00,1403.75C312.33,1403.75 322.67,1402.50 325.00,1402.50C327.33,1402.50 325.00,1403.75 330.00,1403.75C335.54,1403.66 366.67,1402.28 372.50,1401.75C378.33,1401.22 378.25,1399.40 380.00,1399.25C381.75,1399.25 383.12,1400.50 387.50,1400.50C391.88,1400.35 412.25,1398.79 417.50,1398.00C422.75,1397.21 428.12,1394.33 432.50,1393.75C436.88,1393.17 450.62,1393.58 455.00,1393.00C459.38,1392.42 466.79,1389.25 470.00,1388.75C473.21,1388.75 480.17,1388.75 482.50,1388.75C484.83,1389.04 486.21,1390.96 490.00,1391.25C493.79,1391.25 510.92,1391.25 515.00,1391.25C519.08,1390.23 522.08,1385.12 525.00,1382.50C527.92,1379.88 536.50,1371.38 540.00,1368.75C543.50,1366.12 551.50,1361.49 555.00,1360.00C558.50,1358.51 565.92,1356.00 570.00,1356.00C574.08,1356.15 585.33,1359.62 590.00,1361.25C594.67,1362.88 605.04,1367.81 610.00,1370.00C614.96,1372.19 627.25,1377.81 632.50,1380.00C637.75,1382.19 651.06,1386.85 655.00,1388.75C658.94,1390.65 663.04,1395.23 666.25,1396.25C669.46,1397.27 678.56,1396.92 682.50,1397.50C686.44,1398.08 695.33,1400.81 700.00,1401.25C704.67,1401.25 718.71,1401.25 722.50,1401.25C726.29,1400.87 730.17,1398.58 732.50,1398.00C734.83,1397.42 739.88,1396.25 742.50,1396.25C745.12,1396.54 750.92,1400.00 755.00,1400.50C759.08,1400.50 774.29,1400.50 777.50,1400.50C780.71,1400.30 781.04,1398.75 782.50,1398.75C783.96,1398.84 787.38,1401.02 790.00,1401.25C792.62,1401.25 801.79,1401.25 805.00,1400.75C808.21,1400.17 815.17,1396.57 817.50,1396.25C819.83,1396.25 822.96,1397.07 825.00,1398.00C827.04,1398.93 831.79,1403.43 835.00,1404.25C838.21,1405.00 849.88,1404.71 852.50,1405.00C855.12,1405.29 854.88,1406.55 857.50,1406.75C860.12,1406.75 872.38,1406.75 875.00,1406.75C877.62,1407.04 878.83,1409.25 880.00,1409.25C881.17,1409.25 881.21,1407.04 885.00,1406.75C888.79,1406.75 908.85,1406.75 912.50,1406.75C916.15,1407.04 915.38,1409.25 916.25,1409.25C917.12,1409.25 916.25,1407.04 920.00,1406.75C935.31,1406.75 1032.04,1406.75 1047.50,1406.75C1052.50,1406.46 1048.12,1404.60 1052.50,1404.25C1056.88,1403.90 1079.75,1404.25 1085.00,1403.75C1090.25,1403.11 1093.12,1399.42 1097.50,1398.75C1101.88,1398.08 1117.83,1398.58 1122.50,1398.00C1127.17,1397.42 1130.79,1394.25 1137.50,1393.75C1144.21,1393.75 1174.46,1393.75 1180.00,1393.75C1185.00,1394.04 1182.08,1395.90 1185.00,1396.25C1187.92,1396.60 1201.21,1396.25 1205.00,1396.75C1208.79,1397.39 1214.00,1400.64 1217.50,1401.75C1221.00,1402.86 1228.88,1405.64 1235.00,1406.25C1241.12,1406.86 1265.62,1406.65 1270.00,1407.00C1272.50,1407.35 1270.00,1408.99 1272.50,1409.25C1277.46,1409.25 1307.25,1409.25 1312.50,1409.25C1317.50,1408.96 1314.58,1407.10 1317.50,1406.75C1320.42,1406.40 1334.58,1406.60 1337.50,1406.25C1340.42,1405.90 1338.42,1404.04 1342.50,1403.75C1346.58,1403.75 1368.42,1403.75 1372.50,1403.75C1376.58,1404.04 1375.75,1405.87 1377.50,1406.25C1379.25,1406.63 1386.04,1406.65 1387.50,1407.00C1388.96,1407.35 1387.50,1408.99 1390.00,1409.25C1396.12,1409.25 1433.88,1409.25 1440.00,1409.25C1442.50,1408.96 1440.17,1407.01 1442.50,1406.75C1444.83,1406.75 1456.79,1406.75 1460.00,1407.00C1463.21,1407.58 1466.79,1411.20 1470.00,1411.75C1473.21,1411.75 1484.00,1411.75 1487.50,1411.75C1491.00,1411.17 1497.52,1407.33 1500.00,1406.75C1502.48,1406.75 1507.15,1406.75 1508.75,1406.75C1510.35,1407.04 1508.75,1408.96 1513.75,1409.25C1519.15,1409.25 1549.60,1409.25 1555.00,1409.25C1560.00,1408.96 1556.79,1407.19 1560.00,1406.75C1563.21,1406.31 1579.29,1405.85 1582.50,1405.50C1585.71,1405.15 1585.75,1403.95 1587.50,1403.75C1589.25,1403.75 1595.75,1403.75 1597.50,1403.75C1599.25,1404.10 1597.83,1406.40 1602.50,1406.75C1607.17,1406.75 1632.83,1406.75 1637.50,1406.75C1642.17,1406.46 1637.54,1404.60 1642.50,1404.25C1647.46,1403.90 1674.75,1404.10 1680.00,1403.75C1685.25,1403.40 1686.04,1401.25 1687.50,1401.25C1688.96,1401.31 1687.50,1403.90 1692.50,1404.25C1700.08,1404.25 1743.46,1404.25 1752.50,1404.25C1761.54,1403.75 1766.21,1400.79 1770.00,1400.00C1773.79,1399.21 1781.79,1398.29 1785.00,1397.50C1788.21,1396.71 1794.58,1393.75 1797.50,1393.25C1800.42,1393.25 1807.38,1393.25 1810.00,1393.25C1812.62,1393.60 1816.50,1395.61 1820.00,1396.25C1823.50,1396.89 1836.50,1398.69 1840.00,1398.75C1843.50,1398.75 1844.75,1397.04 1850.00,1396.75C1855.25,1396.46 1880.92,1396.31 1885.00,1396.25"/>
<polyline class="c" stroke="#000" stroke-width="7.5" points="147.00,1553.20 300.50,1550.40"/>
<polyline class="c" stroke="#000" stroke-width="7.5" points="879.50,1552.90 905.00,1552.50 910.00,1555.00 935.00,1555.00 945.00,1552.50 960.00,1552.50 962.50,1555.50 1022.50,1555.50 1032.50,1553.25 1052.50,1552.50 1057.50,1550.00 1065.00,1550.00 1070.00,1553.00 1090.00,1553.00 1095.00,1550.00 1132.50,1550.00 1137.50,1547.50 1212.50,1547.50 1217.50,1550.00 1225.00,1550.00 1230.00,1552.50 1255.00,1552.50 1260.00,1555.50 1330.00,1555.50 1367.50,1553.75 1390.00,1553.00 1397.50,1555.50 1435.00,1555.50 1445.00,1553.00 1460.00,1553.00 1467.50,1555.50 1572.50,1555.50 1577.50,1552.50 1592.50,1552.00 1594.50,1548.00 1597.50,1548.00 1600.00,1552.00 1632.50,1552.50 1637.50,1550.00 1665.00,1549.25 1670.00,1547.50 1725.00,1547.50 1730.00,1550.00 1817.50,1550.00 1825.00,1552.50 1885.00,1552.50"/>
<polygon fill="#000" stroke="#000" stroke-width="0.6" stroke-linejoin="round" points="300.00,1546.60 313.77,1546.60 319.12,1539.72 324.48,1545.84 330.60,1545.84 334.42,1542.01 339.77,1544.31 352.01,1546.60 358.13,1544.31 367.31,1544.31 374.19,1538.95 381.08,1542.78 390.26,1542.01 394.08,1536.66 400.96,1536.66 401.73,1538.95 420.85,1538.95 422.38,1536.66 430.03,1534.36 434.62,1528.24 438.44,1526.26 442.27,1528.24 446.86,1535.89 450.68,1535.89 456.03,1531.30 461.39,1531.30 465.98,1537.42 469.80,1531.30 473.63,1523.96 478.22,1525.95 483.57,1531.30 488.16,1524.42 493.51,1521.36 496.57,1525.18 500.40,1528.24 503.46,1526.71 506.52,1523.96 511.11,1525.18 514.17,1526.71 520.28,1526.71 521.81,1511.42 524.87,1505.76 529.46,1506.06 532.52,1512.95 537.11,1513.71 539.41,1519.07 542.47,1519.07 543.23,1508.36 549.35,1508.36 550.88,1516.01 553.94,1518.30 558.53,1516.77 563.12,1518.30 566.94,1516.31 570.77,1522.89 575.36,1527.48 579.94,1530.54 586.06,1533.60 589.89,1534.06 589.94,1534.36 595.30,1534.36 596.83,1531.30 606.01,1531.30 606.77,1525.95 611.36,1523.65 614.42,1528.24 617.48,1525.95 622.07,1530.54 624.36,1521.36 628.95,1518.30 633.54,1521.36 634.31,1530.54 641.19,1534.36 645.01,1526.71 648.84,1523.65 654.19,1525.95 654.96,1534.36 659.55,1534.36 660.31,1538.95 664.90,1538.95 667.96,1534.36 676.37,1534.36 680.20,1538.95 682.49,1528.24 685.55,1526.26 690.14,1529.01 690.91,1541.25 693.20,1538.95 700.85,1539.72 703.91,1538.95 710.03,1542.01 713.09,1544.31 718.44,1544.31 719.21,1536.66 723.03,1534.36 726.09,1540.48 729.15,1538.95 736.03,1538.95 737.56,1534.36 742.15,1534.36 744.45,1541.25 751.33,1542.01 757.45,1544.31 758.22,1538.95 764.34,1538.95 765.10,1544.31 768.16,1542.01 770.45,1544.31 777.34,1544.31 778.87,1542.01 784.99,1542.01 786.52,1544.31 793.40,1544.31 794.17,1542.01 797.23,1542.01 798.75,1544.31 801.05,1542.01 820.94,1542.01 824.76,1546.60 827.06,1544.31 831.64,1544.31 832.41,1546.60 846.18,1546.60 847.71,1548.90 879.98,1548.90 879.98,1556.85 865.30,1556.85 863.77,1559.60 863.00,1556.85 837.76,1556.85 837.00,1554.25 823.23,1554.25 820.94,1551.96 816.35,1551.96 815.58,1554.25 809.46,1554.25 807.93,1551.96 800.28,1551.96 798.75,1554.25 795.70,1554.25 794.17,1551.96 782.69,1554.25 780.40,1559.60 778.10,1559.60 775.81,1554.25 763.57,1551.96 762.04,1556.85 757.45,1556.85 755.92,1549.66 749.80,1549.66 748.27,1551.96 741.39,1551.96 738.33,1556.85 735.27,1556.85 734.51,1554.25 724.56,1551.96 723.80,1556.85 719.21,1556.85 718.44,1554.25 716.15,1554.25 714.62,1551.96 706.97,1551.96 704.67,1554.25 702.38,1556.85 700.09,1556.85 697.79,1554.25 692.44,1554.25 690.91,1551.96 687.85,1551.96 685.55,1556.85 681.73,1556.85 679.43,1554.25 675.61,1554.25 665.67,1554.25 664.90,1551.19 659.55,1548.90 656.49,1551.19 653.43,1551.19 651.90,1548.90 645.01,1548.90 642.72,1551.96 641.19,1548.90 632.01,1546.60 631.25,1553.48 628.19,1559.60 625.89,1557.31 621.30,1553.48 619.01,1546.60 603.71,1546.60 603.71,1538.95 596.83,1538.95 595.30,1541.25 589.94,1541.25 589.89,1540.79 586.06,1541.25 578.42,1538.95 569.24,1534.36 563.12,1538.95 560.06,1534.36 550.88,1531.30 546.29,1534.36 538.64,1531.30 534.05,1535.89 529.46,1540.48 526.40,1548.90 523.34,1548.90 518.75,1542.01 506.52,1542.78 503.46,1548.90 498.87,1548.90 496.57,1550.43 492.75,1557.31 488.92,1557.31 485.87,1549.66 482.04,1546.60 477.45,1554.25 474.39,1559.60 472.10,1557.31 469.80,1547.37 460.62,1548.13 456.80,1554.25 451.45,1554.25 450.68,1548.13 443.80,1548.90 439.21,1557.31 434.62,1557.31 426.97,1549.66 420.85,1551.19 417.79,1556.85 416.26,1554.25 397.90,1554.25 395.61,1558.84 393.31,1558.84 390.26,1552.72 376.49,1553.48 374.96,1557.31 371.90,1557.31 370.37,1554.25 361.19,1554.25 358.13,1553.48 338.24,1554.25 334.42,1558.84 330.60,1558.84 329.07,1554.25 322.95,1554.25 319.12,1559.60 315.30,1559.60 313.77,1554.25 300.00,1554.25"/>
<text transform="translate(149.81,331.50) scale(0.9562,0.9966)" font-size="62">oCB N110</text>
<text transform="translate(157.55,651.90) scale(0.9381,1.0057)" font-size="62">oCB N234</text>
<text transform="translate(156.83,947.00) scale(0.9721,1.0000)" font-size="62">eGO</text>
<text transform="translate(170.03,1180.01) scale(0.9890,0.9829)" font-size="62">GO</text>
<text transform="translate(173.76,1377.51) scale(0.9969,0.9829)" font-size="62">CB</text>
<text transform="translate(153.06,1528.76) scale(0.9880,0.9886)" font-size="62">HSAG</text>
<text transform="translate(1768.10,336.03) scale(1.0187,1.0203)" font-size="72" font-weight="bold">e</text>
<text transform="translate(1762.20,649.04) scale(1.0676,1.0151)" font-size="72" font-weight="bold">d</text>
<text transform="translate(1762.71,912.93) scale(1.0128,1.0253)" font-size="72" font-weight="bold">c</text>
<text transform="translate(1765.59,1192.04) scale(1.0538,1.0094)" font-size="72" font-weight="bold">b</text>
<text transform="translate(1761.36,1384.42) scale(0.9195,1.0380)" font-size="72" font-weight="bold">a</text>
<text transform="translate(1796.59,1380.42) scale(1.2821,0.9944)" font-size="72" font-weight="bold">&#39;</text>
<text transform="translate(1761.36,1535.52) scale(0.9195,1.0405)" font-size="72" font-weight="bold">a</text>
<text transform="translate(81.11,1694.91) scale(0.9630,0.9874)" font-size="62">2000</text>
<text transform="translate(301.51,1694.91) scale(0.9446,0.9874)" font-size="62">1800</text>
<text transform="translate(518.75,1694.91) scale(0.9361,0.9874)" font-size="62">1600</text>
<text transform="translate(735.12,1694.91) scale(0.9423,0.9874)" font-size="62">1400</text>
<text transform="translate(953.45,1694.91) scale(0.9361,0.9874)" font-size="62">1200</text>
<text transform="translate(1171.45,1694.91) scale(0.9361,0.9874)" font-size="62">1000</text>
<text transform="translate(1402.45,1694.91) scale(0.9618,0.9874)" font-size="62">800</text>
<text transform="translate(1616.76,1694.91) scale(0.9974,0.9874)" font-size="62">600</text>
<text transform="translate(1836.07,1694.91) scale(0.9548,0.9874)" font-size="62">400</text>
<text transform="translate(722.81,1797.65) scale(0.9780,0.9937)" font-size="75">Wavenumber</text>
<text transform="translate(1172.69,1797.50) scale(0.9909,0.9871)" font-size="75">(cm</text>
<text transform="translate(1292.66,1756.80) scale(0.9343,1.0574)" font-size="42">-1</text>
<text transform="translate(1336.75,1797.50) scale(0.9013,0.9871)" font-size="75">)</text>
<text transform="translate(92.76,1109.55) rotate(-90) scale(0.9843,1.0117)" font-size="78">Absorbance (a. u.</text>
<text transform="translate(92.76,496.32) rotate(-90) scale(0.8434,1.0117)" font-size="78">)</text>
</svg></body></html>
